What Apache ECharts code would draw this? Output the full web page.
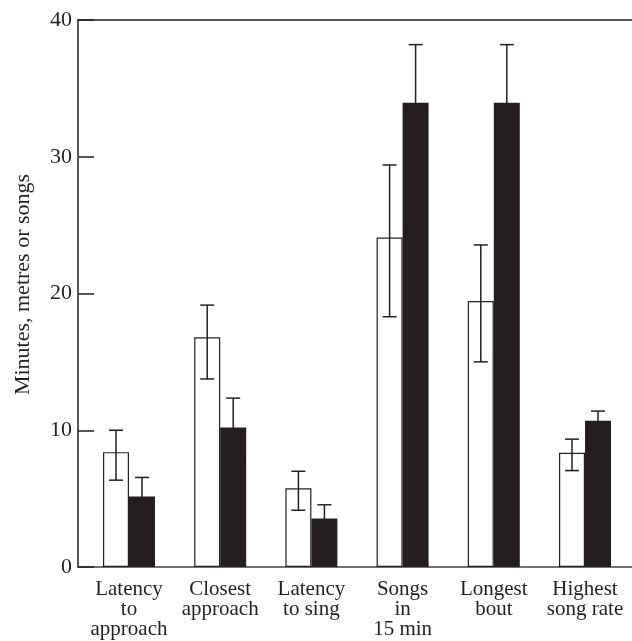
<!DOCTYPE html>
<html>
<head>
<meta charset="utf-8">
<script src="https://cdn.jsdelivr.net/npm/echarts@6/dist/echarts.min.js"></script>
<style>
  html, body { margin: 0; padding: 0; background: #fff; }
  #chart { width: 632px; height: 641px; }
</style>
</head>
<body>
<div id="chart"></div>
<script>
// ---- data ----
const categories = ['Latency\nto\napproach', 'Closest\napproach', 'Latency\nto sing', 'Songs\nin\n15 min', 'Longest\nbout', 'Highest\nsong rate'];
const whiteMean  = [8.4, 16.8, 5.75, 24.1, 19.45, 8.35];
const whiteUpper = [10.0, 19.15, 7.0, 29.4, 23.55, 9.35];
const whiteLower = [6.35, 13.75, 4.15, 18.3, 15.0, 7.05];
const blackMean  = [5.15, 10.2, 3.55, 33.95, 33.95, 10.7];
const blackUpper = [6.55, 12.35, 4.55, 38.2, 38.2, 11.4];
const blackLower = [3.75, 8.05, 2.55, 29.7, 29.7, 10.0];
const yTicks = [0, 10, 20, 30, 40];
const yTitle = 'Minutes, metres or songs';

// ---- styles ----
const INK = '#231f20';
const FONT = '"Liberation Serif", "DejaVu Serif", serif';
const BAR_W = 26;

function errItems(lower, upper) {
  return categories.map((c, i) => [i, lower[i], upper[i]]);
}
function errRender(offset) {
  return function (params, api) {
    const x = api.coord([api.value(0), 0])[0] + offset;
    const yLo = api.coord([api.value(0), api.value(1)])[1];
    const yHi = api.coord([api.value(0), api.value(2)])[1];
    const cap = 7;
    const st = { stroke: INK, lineWidth: 1.5 };
    return {
      type: 'group',
      children: [
        { type: 'line', shape: { x1: x, y1: yLo, x2: x, y2: yHi }, style: st },
        { type: 'line', shape: { x1: x - cap, y1: yHi, x2: x + cap, y2: yHi }, style: st },
        { type: 'line', shape: { x1: x - cap, y1: yLo, x2: x + cap, y2: yLo }, style: st }
      ]
    };
  };
}

const chart = echarts.init(document.getElementById('chart'), null, { renderer: 'canvas' });
chart.setOption({
  animation: false,
  backgroundColor: '#fff',
  grid: [
    { left: 83.4, right: 1.4, top: 20, bottom: 74 },
    { left: 78, right: 0, top: 20, bottom: 74 }
  ],
  xAxis: [
    {
      gridIndex: 0, type: 'category', data: categories,
      axisLine: { show: false }, axisTick: { show: false }, splitLine: { show: false },
      axisLabel: { color: INK, fontFamily: FONT, fontSize: 21, lineHeight: 20, margin: 12, interval: 0 }
    },
    {
      gridIndex: 1, type: 'value', position: 'bottom', min: 0, max: 1,
      axisLine: { show: true, lineStyle: { color: '#444', width: 1.5 } },
      axisTick: { show: false }, axisLabel: { show: false }, splitLine: { show: false }
    },
    {
      gridIndex: 1, type: 'value', position: 'top', min: 0, max: 1,
      axisLine: { show: true, lineStyle: { color: INK, width: 1.5 } },
      axisTick: { show: false }, axisLabel: { show: false }, splitLine: { show: false }
    }
  ],
  yAxis: [
    {
      gridIndex: 0, type: 'value', min: yTicks[0], max: yTicks[yTicks.length - 1], interval: 10,
      show: false
    },
    {
      gridIndex: 1, type: 'value', min: yTicks[0], max: yTicks[yTicks.length - 1], interval: 10,
      axisLine: { show: true, lineStyle: { color: INK, width: 1.5 } },
      axisTick: { show: true, inside: true, length: 16, lineStyle: { color: INK, width: 1.5 } },
      splitLine: { show: false },
      axisLabel: { color: INK, fontFamily: FONT, fontSize: 22, margin: 6 },
      name: yTitle, nameLocation: 'middle', nameGap: 44,
      nameTextStyle: { color: INK, fontFamily: FONT, fontSize: 22, padding: [0, 0, 0, 18] }
    }
  ],
  series: [
    {
      type: 'bar', xAxisIndex: 0, yAxisIndex: 0, data: whiteMean,
      barWidth: BAR_W, barGap: '0%',
      itemStyle: { color: '#fff', borderColor: INK, borderWidth: 1.2 }
    },
    {
      type: 'bar', xAxisIndex: 0, yAxisIndex: 0, data: blackMean,
      barWidth: BAR_W, barGap: '0%',
      itemStyle: { color: INK, borderColor: INK, borderWidth: 0 }
    },
    {
      type: 'custom', xAxisIndex: 0, yAxisIndex: 0, z: 5,
      data: errItems(whiteLower, whiteUpper), renderItem: errRender(-BAR_W / 2)
    },
    {
      type: 'custom', xAxisIndex: 0, yAxisIndex: 0, z: 5,
      data: errItems(blackLower, blackUpper), renderItem: errRender(BAR_W / 2)
    }
  ]
});
</script>
</body>
</html>
